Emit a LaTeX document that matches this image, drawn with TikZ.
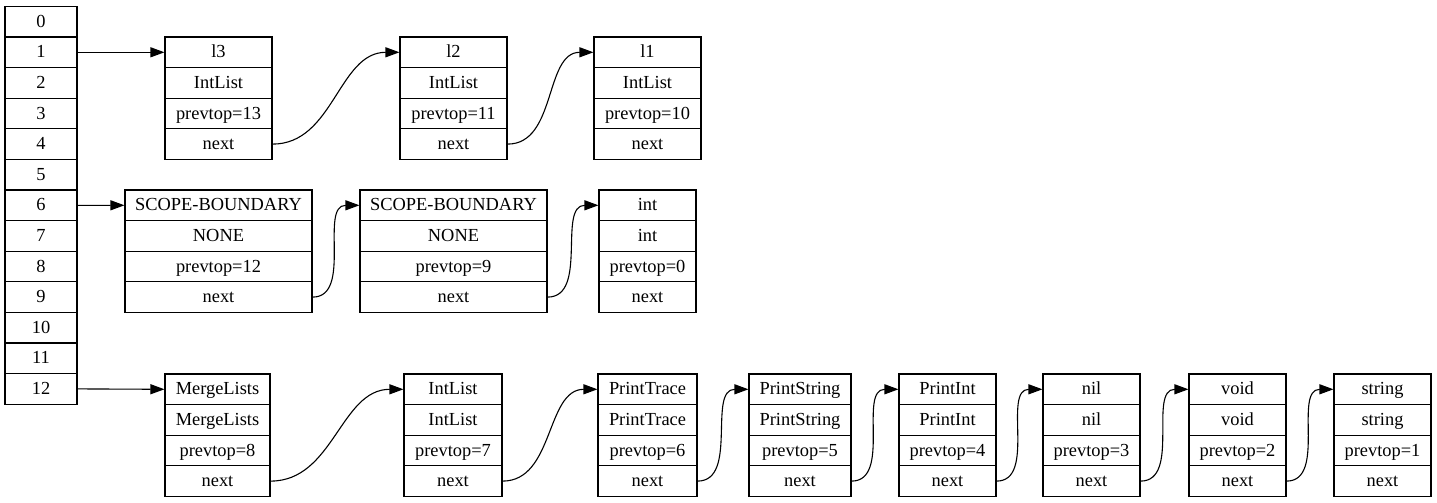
\documentclass[tikz,border=0pt]{standalone}
\usepackage{fontspec}
\setmainfont{Liberation Serif}
\usetikzlibrary{arrows.meta}

% height of one record field
\def\ch{30.6}

\tikzset{
  cell/.style={draw, line width=1.1pt, inner sep=0pt, minimum height=\ch,
    font=\fontsize{18.4}{20}\selectfont, text height=13.5pt, text depth=2.5pt},
  link/.style={line width=1.1pt, -{Triangle[length=14pt,width=10pt]}},
}

% \rec{name}{left}{right}{top}{field1}{field2}{field3}{field4}
\newcommand{\rec}[8]{%
  \node[cell, minimum width={#3-#2}] (#1-1) at ({(#2+#3)/2},{#4+0.5*\ch}) {#5};
  \node[cell, minimum width={#3-#2}] (#1-2) at ({(#2+#3)/2},{#4+1.5*\ch}) {#6};
  \node[cell, minimum width={#3-#2}] (#1-3) at ({(#2+#3)/2},{#4+2.5*\ch}) {#7};
  \node[cell, minimum width={#3-#2}] (#1-4) at ({(#2+#3)/2},{#4+3.5*\ch}) {#8};
}

\begin{document}
\begin{tikzpicture}[x=1pt,y=-1pt]
\useasboundingbox (0,0) rectangle (1437,503);

% stack table
\foreach \i in {0,...,12}{
  \node[cell, minimum width=72] (t\i) at (41,{6.4+(\i+0.5)*\ch}) {\i};
}

% first chain
\rec{la}{165}{272}{37}{l3}{IntList}{prevtop=13}{next}
\rec{lb}{400}{507}{37}{l2}{IntList}{prevtop=11}{next}
\rec{lc}{594}{701}{37}{l1}{IntList}{prevtop=10}{next}

% second chain
\rec{sa}{125}{312}{190}{SCOPE-BOUNDARY}{NONE}{prevtop=12}{next}
\rec{sb}{360}{547}{190}{SCOPE-BOUNDARY}{NONE}{prevtop=9}{next}
\rec{sc}{599}{696}{190}{int}{int}{prevtop=0}{next}

% third chain
\rec{ma}{165}{270}{374}{MergeLists}{MergeLists}{prevtop=8}{next}
\rec{mb}{404}{502}{374}{IntList}{IntList}{prevtop=7}{next}
\rec{mc}{598}{697}{374}{PrintTrace}{PrintTrace}{prevtop=6}{next}
\rec{md}{749}{851}{374}{PrintString}{PrintString}{prevtop=5}{next}
\rec{me}{899}{996}{374}{PrintInt}{PrintInt}{prevtop=4}{next}
\rec{mf}{1043}{1140}{374}{nil}{nil}{prevtop=3}{next}
\rec{mg}{1189}{1286}{374}{void}{void}{prevtop=2}{next}
\rec{mh}{1334}{1431}{374}{string}{string}{prevtop=1}{next}

% table entries into the chains
\draw[link] (t1.east) -- (la-1.west);
\draw[link] (t6.east) -- (sa-1.west);
\draw[link] (t12.east) -- (ma-1.west);

% next pointers
\draw[link] (la-4.east) to[out=0,in=180] (lb-1.west);
\draw[link] (lb-4.east) to[out=0,in=180] (lc-1.west);
\draw[link] (sa-4.east) to[out=0,in=180] (sb-1.west);
\draw[link] (sb-4.east) to[out=0,in=180] (sc-1.west);
\draw[link] (ma-4.east) to[out=0,in=180] (mb-1.west);
\draw[link] (mb-4.east) to[out=0,in=180] (mc-1.west);
\draw[link] (mc-4.east) to[out=0,in=180] (md-1.west);
\draw[link] (md-4.east) to[out=0,in=180] (me-1.west);
\draw[link] (me-4.east) to[out=0,in=180] (mf-1.west);
\draw[link] (mf-4.east) to[out=0,in=180] (mg-1.west);
\draw[link] (mg-4.east) to[out=0,in=180] (mh-1.west);
\end{tikzpicture}
\end{document}
